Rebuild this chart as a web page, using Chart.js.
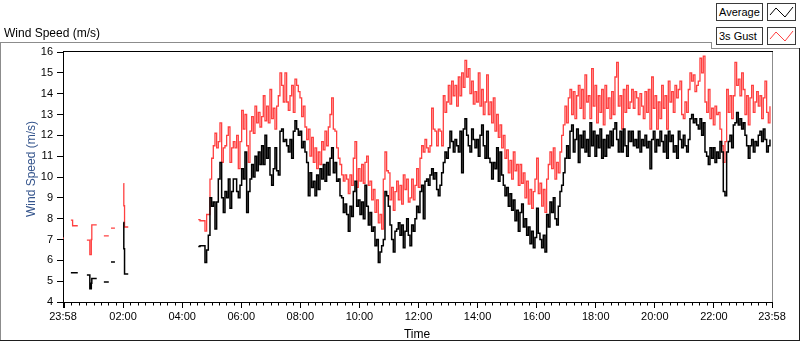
<!DOCTYPE html>
<html>
<head>
<meta charset="utf-8">
<script src="https://cdn.jsdelivr.net/npm/chart.js@4.4.1/dist/chart.umd.min.js"></script>
<style>
  html, body { margin: 0; padding: 0; background: #fff; }
  #wrap { position: relative; width: 800px; height: 342px; overflow: hidden; font-family: "Liberation Sans", Arial, sans-serif; }
  #chart { position: absolute; left: 0; top: 0; }
  .ln { position: absolute; }
  .txt { position: absolute; white-space: nowrap; color: #000; }
  .lgBox { position: absolute; box-sizing: border-box; border: 1px solid #3a3a3a; background: #fff; font-size: 11px; line-height: 16px; padding-left: 2px; }
  .lgSw { position: absolute; box-sizing: border-box; border: 1px solid #3a3a3a; background: #fff; }
</style>
</head>
<body>
<div id="wrap">
  <canvas id="chart" width="800" height="342"></canvas>

  <!-- outer frame -->
  <div class="ln" style="left:0;top:42px;width:711px;height:1px;background:#8c8c8c"></div>
  <div class="ln" style="left:711px;top:42px;width:1px;height:7px;background:#8c8c8c"></div>
  <div class="ln" style="left:711px;top:48px;width:89px;height:1px;background:#8c8c8c"></div>
  <div class="ln" style="left:0;top:42px;width:1px;height:299px;background:#8c8c8c"></div>
  <div class="ln" style="left:0;top:340px;width:800px;height:1px;background:#1e1e1e"></div>
  <div class="ln" style="left:799px;top:48px;width:1px;height:293px;background:#1e1e1e"></div>

  <div class="txt" style="left:4px;top:26px;font-size:12px;line-height:14px">Wind Speed (m/s)</div>
  <div class="txt" style="left:367px;top:327px;width:100px;text-align:center;font-size:12px;line-height:14px">Time</div>
  <div class="txt" style="left:-69px;top:162px;width:200px;text-align:center;font-size:12px;line-height:14px;color:#34548c;transform:rotate(-90deg)">Wind Speed (m/s)</div>

  <!-- legend -->
  <div class="lgBox" style="left:716px;top:3px;width:47px;height:18px">Average</div>
  <div class="lgSw" style="left:767px;top:3px;width:29px;height:18px">
    <svg width="27" height="16"><polyline points="2,11 8,4 17,13 25,3" fill="none" stroke="#000" stroke-width="1"/></svg>
  </div>
  <div class="lgBox" style="left:716px;top:27px;width:47px;height:18px">3s Gust</div>
  <div class="lgSw" style="left:767px;top:27px;width:29px;height:18px">
    <svg width="27" height="16"><polyline points="2,11 8,4 17,13 25,3" fill="none" stroke="#ff4040" stroke-width="1"/></svg>
  </div>
</div>

<script>
// x values are minutes after midnight; -2 and 1438 are the 23:58 ends
const xMin = -2;
const xMax = 1438;
const xTickValues = [-2, 120, 240, 360, 480, 600, 720, 840, 960, 1080, 1200, 1320, 1438];
const yMin = 4;
const yMax = 16;

// sparse readings before the logger settles (null = gap)
const earlyTimes = [-2, 0, 0.5, 14, 17.5, 28, 29, 46.5, 52.5, 55.5, 56.5, 66.5, 67, 81, 91, 92, 95.5, 103.5, 104, 120.5, 121.5, 123, 130.5, 131, 272.7];
const earlyGust = [7.07, 7.07, null, 7.93, 7.66, 7.66, null, 6.97, 6.27, 7.0, 7.7, 7.7, null, 7.17, 7.17, null, 7.55, 7.55, null, 9.68, 8.62, 7.6, 7.6, null, 7.95];
const earlyAvg = [5.76, 5.76, null, 5.4, 5.4, 5.4, null, 5.3, 4.64, 4.9, 5.13, 5.13, null, 4.96, 4.96, null, 5.92, 5.92, null, 7.82, 6.56, 5.34, 5.34, null, 6.67];

// continuous record, one reading every denseStep minutes from denseStart
const denseStart = 276.2;
const denseStep = 3.385;

const gustDense = [
  7.9, 7.9, 7.9, 7.4, 8.2, 8.2, 9.9, 10.9, 11.5, 12.1, 11.4, 11.7, 12.6, 10.7, 11.4, 11.5, 12.0, 12.4, 10.7, 11.4,
  11.7, 11.4, 12.0, 10.4, 11.7, 13.2, 12.3, 13.0, 11.5, 10.7, 12.2, 12.9, 12.1, 13.4, 12.6, 13.1, 12.4, 12.9, 13.9, 12.7,
  13.4, 12.6, 14.2, 12.8, 13.3, 12.3, 13.4, 13.9, 15.0, 14.4, 13.6, 15.0, 13.6, 13.2, 13.9, 14.4, 13.1, 14.7, 14.4, 14.1,
  13.8, 12.9, 13.4, 12.4, 11.8, 12.3, 11.0, 11.9, 10.7, 11.4, 10.4, 11.2, 10.6, 11.7, 11.3, 12.2, 11.5, 12.4, 13.0, 13.8,
  12.3, 12.2, 11.4, 10.9, 10.6, 10.1, 9.8, 10.1,
  9.9, 9.2, 10.1, 9.6, 10.9, 11.7, 9.5, 10.4, 9.8, 10.6, 9.7, 10.7, 11.0, 9.6, 9.8, 8.9, 9.4, 8.3, 8.9, 7.8,
  8.2, 7.5, 9.9, 11.2, 10.3, 10.2, 8.9, 9.5, 8.4, 9.3, 9.8, 8.9, 9.6, 8.7, 10.1, 9.4, 9.9, 8.8, 9.0, 9.9,
  8.9, 9.6, 10.4, 9.5, 10.9, 11.5, 11.2, 11.8, 11.4, 11.2, 11.5, 13.3, 12.3, 12.2, 11.5, 12.3, 12.2, 11.5, 13.9, 13.1,
  13.6, 14.4, 13.5, 14.6, 13.9, 14.4, 13.4, 14.8, 13.9, 15.0, 14.3, 15.6, 14.8, 15.2, 14.0, 14.6, 13.5, 14.1, 13.6, 15.0,
  13.4, 14.2, 13.0, 13.6,
  14.9, 13.0, 13.6, 12.6, 13.8, 12.2, 13.0, 11.9, 12.5, 11.4, 12.0, 10.9, 11.3, 10.2, 10.8, 9.9, 11.2, 10.3, 10.6, 9.6,
  10.6, 9.7, 10.2, 9.0, 9.8, 8.7, 9.4, 8.5, 9.3, 9.9, 10.9, 9.2, 9.7, 8.6, 9.4, 8.3, 9.9, 10.6, 11.2, 10.4,
  11.4, 9.9, 10.7, 10.2, 11.2, 12.0, 12.5, 13.4, 12.6, 13.8, 14.2, 13.0, 14.1, 12.8, 13.9, 14.4, 13.3, 14.2, 12.8, 14.9,
  13.6, 13.9, 12.8, 15.2, 13.4, 14.4, 12.6, 13.9, 13.1, 14.2, 12.5, 14.4, 13.3, 13.8, 12.8, 14.1, 13.0, 14.8, 15.5, 13.4,
  13.9, 12.3, 14.2, 13.1, 14.4, 13.3, 13.6,
  14.2, 13.3, 14.1, 13.8, 13.0, 14.0, 13.4, 12.8, 14.1, 13.1, 14.2, 12.3, 14.8, 13.3, 13.9, 12.3, 13.6, 12.8, 14.4, 13.3,
  13.9, 12.3, 14.6, 13.6, 14.1, 13.1, 14.4, 13.8, 14.2, 14.6, 13.0, 12.8, 13.6, 13.1, 14.2, 15.0, 14.6, 14.9, 14.1, 14.4,
  14.6, 15.7, 15.0, 15.8, 13.6, 13.1, 14.2, 12.8, 13.3, 12.5, 13.4, 13.0, 13.1, 12.3, 11.5, 10.7, 11.7, 14.2, 13.1, 13.9,
  12.8, 13.9, 15.5, 14.4, 14.7, 13.9, 15.0, 14.2, 13.0, 13.9, 12.5, 13.8, 14.4, 13.1, 13.6, 14.1, 13.4, 13.9, 12.8, 13.8,
  14.6, 13.1, 12.6, 13.4
];

const avgDense = [
  6.7, 6.7, 6.7, 5.9, 6.5, 7.2, 9.0, 8.6, 8.8, 7.5, 8.8, 9.9, 10.7, 9.0, 8.3, 9.3, 9.0, 9.9, 8.5, 9.3,
  9.9, 9.9, 9.3, 9.0, 9.6, 10.4, 9.9, 11.2, 8.3, 9.3, 9.9, 10.6, 10.0, 11.0, 10.3, 11.2, 10.6, 11.5, 10.6, 12.0,
  10.9, 11.4, 10.1, 9.6, 10.4, 11.4, 10.3, 10.1, 12.2, 12.3, 11.7, 11.8, 11.5, 11.2, 11.8, 10.9, 12.2, 12.7, 12.3, 12.0,
  12.2, 11.4, 11.7, 11.2, 10.7, 9.1, 10.2, 9.5, 9.8, 9.1, 10.1, 9.4, 10.4, 9.9, 10.6, 9.8, 10.7, 10.1, 10.9, 11.4,
  10.2, 10.7, 9.8, 9.9, 9.1, 9.0, 8.3, 8.7,
  8.2, 7.4, 8.6, 8.1, 9.3, 9.8, 8.6, 8.9, 8.2, 8.8, 8.0, 9.6, 8.6, 7.7, 8.3, 7.4, 7.6, 6.7, 7.0, 5.9,
  6.4, 6.7, 7.0, 9.3, 9.1, 8.6, 7.7, 7.0, 6.4, 7.4, 7.5, 7.8, 7.2, 7.7, 6.6, 7.4, 8.0, 7.2, 6.7, 7.7,
  7.4, 8.0, 8.6, 8.3, 9.3, 9.6, 8.0, 9.8, 9.9, 9.6, 10.1, 10.4, 9.9, 10.2, 9.4, 9.1, 9.6, 10.2, 10.7, 11.2,
  10.9, 11.4, 12.2, 11.7, 11.2, 11.8, 11.5, 11.2, 12.2, 10.2, 12.3, 12.8, 12.0, 11.5, 11.2, 12.3, 11.8, 11.4, 11.8, 11.0,
  12.0, 12.5, 11.5, 10.9,
  12.2, 10.9, 10.7, 9.9, 10.7, 10.4, 11.4, 9.8, 11.2, 10.1, 9.6, 9.1, 9.5, 8.6, 9.2, 8.4, 8.9, 7.9, 8.4, 7.4,
  8.3, 8.7, 7.6, 8.0, 7.2, 7.6, 6.8, 7.4, 6.6, 7.1, 8.5, 7.3, 7.0, 6.6, 7.2, 6.4, 8.2, 7.6, 8.8, 8.3,
  9.0, 8.0, 7.7, 8.6, 9.3, 9.6, 10.2, 10.9, 11.5, 10.9, 12.2, 12.5, 11.2, 11.8, 12.3, 10.7, 12.0, 11.4, 12.2, 11.2,
  11.8, 11.0, 12.6, 11.5, 12.2, 11.0, 12.0, 11.4, 12.3, 10.9, 11.8, 11.0, 12.0, 11.4, 12.2, 11.5, 12.3, 12.6, 11.8, 11.2,
  12.2, 11.2, 12.3, 11.5, 11.0, 12.2, 11.7,
  12.2, 11.5, 11.8, 11.4, 12.2, 11.2, 11.8, 11.5, 12.0, 11.4, 11.7, 10.4, 11.8, 12.2, 11.2, 11.8, 11.5, 12.2, 11.7, 11.2,
  12.0, 10.9, 12.2, 11.7, 12.0, 11.2, 11.5, 10.9, 12.2, 11.8, 11.4, 12.0, 11.5, 11.2, 11.8, 12.8, 13.0, 12.6, 12.8, 12.5,
  12.3, 12.8, 12.0, 12.6, 11.2, 11.0, 10.6, 11.4, 10.9, 11.4, 10.7, 11.2, 10.9, 11.7, 11.2, 9.3, 9.1, 11.2, 11.7, 12.0,
  11.4, 12.5, 12.6, 13.1, 12.5, 12.8, 12.3, 12.6, 12.0, 11.5, 10.9, 11.5, 11.8, 11.2, 11.7, 11.5, 12.0, 12.2, 11.7, 12.3,
  11.8, 11.2, 11.5, 11.8
];

function buildPoints(earlyVals, denseVals) {
  const pts = earlyTimes.map((t, i) => ({ x: t, y: earlyVals[i] }));
  denseVals.forEach((v, i) => pts.push({ x: denseStart + i * denseStep, y: v }));
  return pts;
}

function hhmm(v) {
  const m = ((Math.round(v) % 1440) + 1440) % 1440;
  const h = Math.floor(m / 60);
  const mm = m % 60;
  return String(h).padStart(2, '0') + ':' + String(mm).padStart(2, '0');
}

// top/right plot frame and the 15-minute minor ticks
const plotFrame = {
  id: 'plotFrame',
  afterDraw(chart) {
    const { ctx, chartArea: a } = chart;
    const xs = chart.scales.x;
    ctx.save();
    ctx.lineWidth = 1;
    ctx.strokeStyle = '#000';
    ctx.beginPath();
    ctx.moveTo(a.left, a.top - 0.5);
    ctx.lineTo(a.right + 1, a.top - 0.5);
    ctx.stroke();
    ctx.strokeStyle = '#8c8c8c';
    ctx.beginPath();
    ctx.moveTo(a.right + 0.5, a.top);
    ctx.lineTo(a.right + 0.5, a.bottom);
    ctx.stroke();
    ctx.strokeStyle = '#000';
    ctx.beginPath();
    for (let m = 0; m < 1440; m += 15) {
      if (m % 120 === 0 && m !== 0) continue;
      const px = Math.round(xs.getPixelForValue(m)) + 0.5;
      const len = m === 0 ? 6 : 3.5;
      ctx.moveTo(px, a.bottom);
      ctx.lineTo(px, a.bottom + len);
    }
    ctx.stroke();
    ctx.restore();
  }
};

Chart.defaults.font.family = '"Liberation Sans", Arial, sans-serif';

new Chart(document.getElementById('chart').getContext('2d'), {
  type: 'line',
  data: {
    datasets: [
      {
        label: 'Average',
        data: buildPoints(earlyAvg, avgDense),
        borderColor: '#000000',
        borderWidth: 1.5,
        stepped: true,
        pointRadius: 0,
        fill: false
      },
      {
        label: '3s Gust',
        data: buildPoints(earlyGust, gustDense),
        borderColor: '#ff4040',
        borderWidth: 1.3,
        stepped: true,
        pointRadius: 0,
        fill: false
      }
    ]
  },
  options: {
    responsive: false,
    animation: false,
    events: [],
    layout: { padding: { top: 52, right: 28, left: 0, bottom: 0 } },
    plugins: { legend: { display: false }, tooltip: { enabled: false } },
    scales: {
      x: {
        type: 'linear',
        min: xMin,
        max: xMax,
        afterFit(s) { s.height = 40; },
        afterBuildTicks(s) { s.ticks = xTickValues.map(v => ({ value: v })); },
        ticks: {
          autoSkip: false,
          maxRotation: 0,
          padding: 2,
          color: '#000',
          font: { size: 11 },
          callback: v => hhmm(v)
        },
        grid: { drawOnChartArea: false, drawTicks: true, tickLength: 6, color: '#000' },
        border: { display: true, color: '#000' }
      },
      y: {
        min: yMin,
        max: yMax,
        afterFit(s) { s.width = 63; },
        ticks: { stepSize: 1, padding: 4, color: '#000', font: { size: 11 } },
        grid: { drawOnChartArea: false, drawTicks: true, tickLength: 6, color: '#000' },
        border: { display: true, color: '#000' }
      }
    }
  },
  plugins: [plotFrame]
});
</script>
</body>
</html>
